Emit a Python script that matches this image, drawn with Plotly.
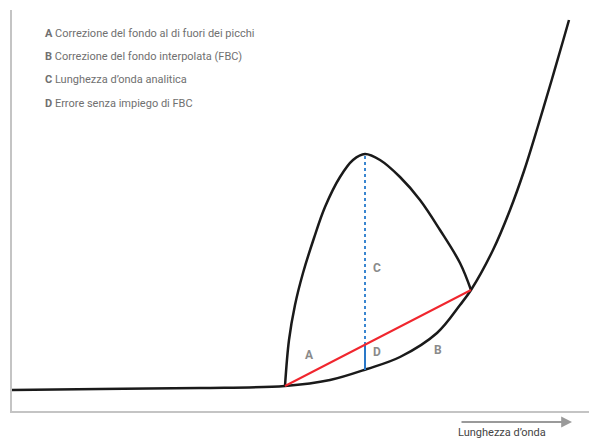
import plotly.graph_objects as go

# Background (baseline) curve
bg_x = [0, 88, 188, 273, 318, 355, 388, 425, 448, 459, 481, 498, 512, 526, 540, 551, 557]
bg_y = [21, 22, 23, 25, 31, 42, 54, 78, 106, 121, 161, 201, 240, 285, 332, 370, 391]

# Peak curve
pk_x = [273, 277, 283, 291, 302, 313, 328, 341, 353, 368, 388, 408, 428, 448, 459]
pk_y = [25, 71, 106, 138, 173, 204, 234, 251, 257, 251, 234, 211, 181, 148, 121]

# Interpolated background correction (FBC) line
fbc_x = [273, 459]
fbc_y = [25, 121]

# Analytical wavelength line (C) and error (D)
c_x = [353, 353]
c_y = [66, 257]
d_x = [353, 353]
d_y = [41, 66]

legend_letters = ["A", "B", "C", "D"]
legend_texts = [
    "Correzione del fondo al di fuori dei picchi",
    "Correzione del fondo interpolata (FBC)",
    "Lunghezza d’onda analitica",
    "Errore senza impiego di FBC",
]
legend_y = [378, 355, 332, 308]

labels = ["A", "B", "C", "D"]
label_x = [297, 426, 365, 365]
label_y = [56, 61, 143, 59]

axis_title = "Lunghezza d’onda"

fig = go.Figure()
fig.add_trace(go.Scatter(x=bg_x, y=bg_y, mode="lines",
                         line=dict(color="#1a1a1a", width=2.5, shape="spline", smoothing=1),
                         hoverinfo="skip"))
fig.add_trace(go.Scatter(x=pk_x, y=pk_y, mode="lines",
                         line=dict(color="#1a1a1a", width=2.5, shape="spline", smoothing=1),
                         hoverinfo="skip"))
fig.add_trace(go.Scatter(x=c_x, y=c_y, mode="lines",
                         line=dict(color="#3a86d0", width=2, dash="dot"), hoverinfo="skip"))
fig.add_trace(go.Scatter(x=d_x, y=d_y, mode="lines",
                         line=dict(color="#2a78c8", width=2), hoverinfo="skip"))
fig.add_trace(go.Scatter(x=fbc_x, y=fbc_y, mode="lines",
                         line=dict(color="#f0262e", width=2), hoverinfo="skip"))

font_family = "Roboto, Arial"

for letter, text, y in zip(legend_letters, legend_texts, legend_y):
    fig.add_annotation(x=31, y=y, xref="x", yref="y", xanchor="left", yanchor="middle",
                       text=f"<b>{letter}</b> {text}", showarrow=False,
                       font=dict(family=font_family, size=11, color="#707070"))

for t, x, y in zip(labels, label_x, label_y):
    fig.add_annotation(x=x, y=y, xref="x", yref="y", text=f"<b>{t}</b>", showarrow=False,
                       font=dict(family=font_family, size=12, color="#8a8a8a"))

# Arrow under the axis (paper coordinates, below the plot area)
fig.add_annotation(x=560 / 585, y=-11 / 401, xref="paper", yref="paper", ax=-112, ay=0,
                   axref="pixel", ayref="pixel", text="", showarrow=True, arrowhead=2,
                   arrowsize=1.2, arrowwidth=1.8, arrowcolor="#9a9a9a")
fig.add_annotation(x=490 / 585, y=-22 / 401, xref="paper", yref="paper", text=axis_title,
                   showarrow=False, xanchor="center", yanchor="middle",
                   font=dict(family=font_family, size=11, color="#444444"))

fig.update_layout(
    width=589, height=433,
    margin=dict(l=4, r=0, t=2, b=30),
    paper_bgcolor="white", plot_bgcolor="white",
    showlegend=False,
    xaxis=dict(range=[0, 585], showgrid=False, zeroline=False, showticklabels=False,
               ticks="", showline=True, linecolor="#c4c4c4", linewidth=2, fixedrange=True),
    yaxis=dict(range=[0, 401], showgrid=False, zeroline=False, showticklabels=False,
               ticks="", showline=True, linecolor="#c4c4c4", linewidth=2, fixedrange=True),
)

fig.write_html("out.html")
